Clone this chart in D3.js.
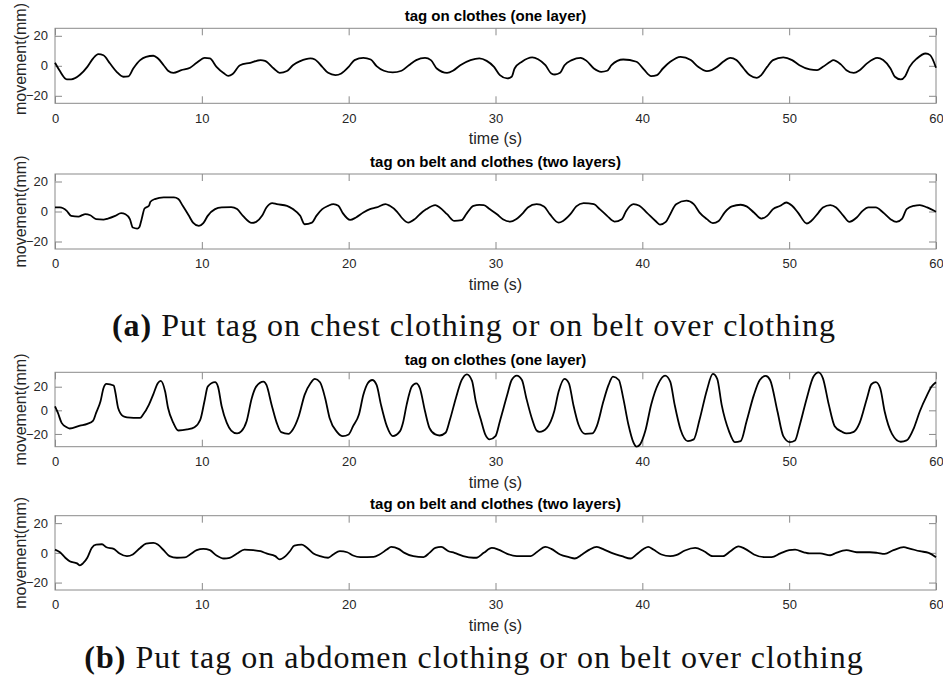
<!DOCTYPE html>
<html>
<head>
<meta charset="utf-8">
<script src="https://cdn.jsdelivr.net/npm/d3@7"></script>
<style>
  html, body { margin: 0; padding: 0; background: #fff; }
  svg { display: block; }
</style>
</head>
<body>
<svg id="fig" width="943" height="688"></svg>
<script>
// ---- data: time (s) / movement (mm) ----
const xTicks = [0, 10, 20, 30, 40, 50, 60];
const yTicks = [-20, 0, 20];
const panelTitles = [
  "tag on clothes (one layer)",
  "tag on belt and clothes (two layers)",
  "tag on clothes (one layer)",
  "tag on belt and clothes (two layers)"
];
const captionLetters = ["(a)", "(b)"];
const captionTexts = [
  "Put tag on chest clothing or on belt over clothing",
  "Put tag on abdomen clothing or on belt over clothing"
];

// chest, tag on clothes
const chestOneLayer = [[0,2],[0.3,-3],[0.8,-9],[1.1,-9],[1.7,-6],[2.2,-0.7],[2.6,5],[2.95,7.8],[3.3,7],[3.75,1.5],[4.2,-4],[4.65,-7.3],[5,-7],[5.33,-1.8],[5.8,3.8],[6.2,6],[6.7,6.7],[7.0,5],[7.4,0.4],[7.7,-3.3],[8.06,-4.7],[8.6,-2.9],[9.2,-1.3],[9.65,2],[10.2,5.3],[10.55,4.9],[11,-0.7],[11.5,-5],[11.8,-6.7],[12.1,-5.5],[12.6,0.4],[13.3,2],[14,3.8],[14.3,3.3],[14.9,-1.8],[15.3,-4.7],[15.8,-3.5],[16.2,0.4],[16.7,3.1],[17.4,4.9],[17.7,4.2],[18.2,-0.7],[18.6,-4.7],[19.1,-6.2],[19.5,-5.1],[20,-0.7],[20.4,3.8],[21,5.3],[21.5,4.2],[21.9,-0.2],[22.4,-3.3],[23,-4.4],[23.6,-3.3],[24.1,0.4],[24.6,3.8],[25.2,5.3],[25.6,3.8],[26,-1.8],[26.7,-4.7],[27.1,-3.3],[27.6,0.4],[28.3,3.8],[28.9,5],[29.4,3.3],[29.9,-0.7],[30.3,-6.2],[30.8,-8.4],[31.1,-7.3],[31.3,-1.8],[31.8,2.7],[32.5,5.6],[32.9,4.4],[33.4,0.4],[33.8,-5.1],[34.05,-5.8],[34.4,-4.7],[34.7,0.4],[35.2,3.8],[35.8,5.3],[36.2,3.3],[36.7,-1.8],[37.2,-4],[37.6,-3.3],[37.9,0.4],[38.3,3.3],[38.7,4.2],[39.6,2.7],[40.1,-2.4],[40.6,-6.9],[41,-6.2],[41.4,-1.8],[41.9,2.7],[42.6,6],[43.3,3.8],[43.8,-0.7],[44.4,-3.6],[45.1,-0.7],[45.5,2.7],[46,5.3],[46.4,3.8],[46.9,-1.8],[47.3,-6.2],[47.8,-8],[48.1,-6.2],[48.5,-0.7],[48.9,3.8],[49.6,5.6],[50.2,3.8],[50.7,0.4],[51.4,-2.4],[51.9,-2.9],[52.3,-0.7],[52.8,2.7],[53,3.8],[53.5,1.1],[53.9,-2.9],[54.4,-4.7],[54.8,-2.9],[55.3,1.6],[56,5.3],[56.4,3.8],[56.9,-1.8],[57.2,-7.3],[57.6,-9.1],[57.9,-6.9],[58.2,-0.7],[58.7,4.9],[59.3,8.2],[59.6,7.1],[60,-1.3]];

// chest, tag on belt over clothes
const chestTwoLayers = [[0,2.7],[0.34,2.7],[0.8,0.4],[1.1,-2.9],[1.6,-3.4],[1.9,-2.2],[2.05,-1.8],[2.4,-2.5],[2.8,-5.1],[3.3,-5.4],[3.6,-4.7],[4.1,-2.9],[4.5,-1.1],[4.8,-1.8],[5.1,-5.1],[5.3,-10.7],[5.6,-11.4],[5.75,-10.3],[5.9,-5.1],[6.1,2],[6.4,3.8],[6.5,6.5],[6.8,8.3],[7.4,9.4],[8.1,9.4],[8.4,8.3],[8.7,3.8],[9.1,-2.5],[9.4,-7.4],[9.8,-9.6],[10.1,-7.8],[10.4,-2.9],[10.9,1.6],[11.35,2.7],[12,2.9],[12.4,1.6],[12.8,-2.9],[13.4,-7.6],[13.7,-6.9],[14.1,-2.9],[14.4,2.7],[14.8,5.6],[15.1,4.9],[15.8,3.8],[16.2,1.6],[16.7,-2.9],[17,-8.5],[17.5,-7.4],[17.8,-2.9],[18.2,1.6],[18.6,3.8],[18.96,4.9],[19.3,3.8],[19.6,-1.1],[20.1,-5.6],[20.5,-4],[21,-0.7],[21.45,1.6],[21.9,2.7],[22.5,4.9],[22.8,3.8],[23.3,-0.2],[23.6,-4],[24.05,-7.4],[24.5,-5.1],[24.85,-1.8],[25.3,1.6],[25.9,4.3],[26.2,2.7],[26.7,-1.8],[27.2,-6.3],[27.7,-5.8],[28,-1.8],[28.5,3.8],[28.9,4.4],[29.2,4.3],[29.6,1.6],[30.1,-1.8],[30.5,-5.1],[31,-6.7],[31.4,-5.1],[31.9,-0.7],[32.2,2.7],[32.8,4.9],[33.3,3.4],[33.7,-1.8],[34.3,-7.4],[34.6,-6.3],[35.1,-1.8],[35.5,3.4],[36,5.6],[36.7,4.9],[37.1,1.6],[37.6,-2.9],[38.1,-6.7],[38.6,-5.1],[38.9,0.4],[39.4,4.9],[39.8,3.8],[40.3,-0.7],[40.9,-6.3],[41.2,-8.7],[41.6,-6.9],[41.9,-1.8],[42.3,4.9],[43,7.2],[43.5,4.9],[43.9,-0.7],[44.4,-5.1],[44.8,-7.8],[45.2,-6.3],[45.6,-0.7],[46.1,3.4],[46.7,4.5],[47.1,3.4],[47.6,-0.7],[48.1,-4.7],[48.5,-2.9],[48.9,1.6],[49.4,3.8],[49.8,6],[50.2,3.8],[50.6,-0.7],[51.2,-8],[51.5,-6.3],[52,-0.7],[52.3,2.7],[52.8,4.3],[53.2,2.7],[53.7,-2.9],[54.1,-6.9],[54.6,-4],[55,0.4],[55.4,2.7],[55.9,2.7],[56.4,-0.7],[56.9,-5.1],[57.3,-6.9],[57.7,-4.7],[58,1.6],[58.5,3.8],[58.9,4.3],[59.4,2.7],[60,-0.2]];

// abdomen, tag on clothes
const abdomenOneLayer = [[0,3.4],[0.2,-2.2],[0.45,-10.6],[0.8,-14.3],[1.0,-15.4],[1.7,-12.9],[2.2,-11.5],[2.6,-8.7],[2.8,-2.2],[3.1,7.6],[3.3,18.7],[3.5,22.4],[4.0,21],[4.1,15.9],[4.3,2],[4.65,-5],[4.9,-5.9],[5.8,-6.4],[6,-3.6],[6.4,4.8],[6.7,13.7],[7.0,22.9],[7.2,24.9],[7.5,15.9],[7.7,2],[8.06,-10.6],[8.4,-17.1],[9.0,-16.2],[9.5,-14.3],[9.9,-7.8],[10.2,9],[10.4,20.1],[10.9,23.8],[11.1,20.1],[11.35,3.4],[11.7,-10.6],[12.0,-17.1],[12.4,-19.6],[12.7,-17.6],[13.05,-9.2],[13.4,10.3],[13.7,20.1],[14.2,24.3],[14.4,21.5],[14.75,4.8],[15.1,-10.6],[15.4,-18.5],[15.9,-19.9],[16.2,-16.2],[16.6,-5],[17.0,13.1],[17.4,22.9],[17.7,26.6],[18.05,23.8],[18.4,10.3],[18.7,-6.4],[19.2,-18.2],[19.6,-21.8],[20,-20.4],[20.3,-13.4],[20.7,-3.6],[21.0,13.1],[21.3,22.9],[21.6,25.7],[21.9,21.5],[22.2,4.8],[22.6,-13.4],[23.0,-21.8],[23.5,-17.6],[23.7,-10.6],[23.95,4.8],[24.3,20.1],[24.6,22.9],[24.85,18.7],[25.2,-0.8],[25.5,-14.8],[25.9,-20.4],[26.2,-21.3],[26.6,-19],[26.9,-7.8],[27.3,10.3],[27.7,25.7],[28.05,30.5],[28.4,25],[28.65,8],[29,-7.8],[29.3,-20.4],[29.6,-24.6],[30,-21.8],[30.3,-9.2],[30.8,13.1],[31.1,25.7],[31.45,29.4],[31.8,25.7],[32.1,10.3],[32.5,-7.8],[32.8,-17.1],[33.0,-18.2],[33.5,-14.8],[34,-0.8],[34.3,15.9],[34.7,26.6],[35,22.9],[35.3,4.8],[35.65,-12],[36.1,-19.9],[36.6,-19.6],[36.9,-13.4],[37.35,7.6],[37.7,21.5],[38.0,28.5],[38.4,25.7],[38.7,10.3],[39.05,-12],[39.4,-27.4],[39.6,-30.8],[39.85,-28.8],[40.2,-17.6],[40.6,4.8],[41.1,22.9],[41.55,29.4],[41.9,24.3],[42.2,4.8],[42.6,-16.2],[43.1,-26],[43.5,-24.6],[43.9,-7.8],[44.4,17.3],[44.8,30.8],[45.1,26.6],[45.4,4.8],[45.9,-17.6],[46.3,-26.9],[46.7,-26],[47.1,-9.2],[47.6,13.1],[48.0,25.7],[48.4,29.1],[48.7,25.7],[49.2,-0.8],[49.6,-21.8],[50.05,-26.9],[50.4,-25.5],[50.7,-13.4],[51.2,10.3],[51.65,28.5],[52.0,32.2],[52.3,27.1],[52.7,4.8],[53.1,-13.4],[53.6,-18.2],[53.9,-19.6],[54.4,-18.2],[54.8,-10.6],[55.3,10.3],[55.6,22.1],[55.9,23.8],[56.2,18.7],[56.5,-0.8],[57,-19.9],[57.6,-26.6],[58,-25.5],[58.5,-14.8],[58.9,-0.8],[59.4,13.1],[59.7,20.1],[60,23.8]];

// abdomen, tag on belt over clothes
const abdomenTwoLayers = [[0,2.2],[0.34,0.4],[0.7,-3.3],[1.0,-5.6],[1.5,-7.1],[1.7,-8.4],[1.9,-7.1],[2.2,-3.3],[2.5,3.3],[2.8,5.6],[3.2,5.8],[3.5,3.8],[4.0,2.7],[4.4,-0.4],[4.9,-2.2],[5.3,-1.1],[5.8,3.3],[6.2,6.2],[6.7,6.7],[7.0,5.6],[7.4,1.8],[7.8,-2.2],[8.3,-3.3],[8.85,-3.1],[9.2,-1.1],[9.65,1.8],[10.1,2.7],[10.55,1.8],[11,-1.8],[11.5,-3.8],[11.9,-3.3],[12.4,-0.4],[12.9,2.2],[13.5,1.8],[14,1.1],[14.4,-0.4],[15.0,-2.2],[15.3,-4.4],[15.7,-2.2],[16.0,1.1],[16.3,4.9],[16.8,5.6],[17.1,4],[17.6,-0.4],[18.05,-2.2],[18.6,-3.3],[18.95,-1.1],[19.4,1.1],[19.9,0.4],[20.3,-1.8],[20.8,-2.9],[21.7,-2.7],[22.1,-1.1],[22.6,2.2],[22.9,4],[23.4,2.7],[23.8,0],[24.4,-2.2],[25.1,-2.9],[25.5,0],[25.9,3.3],[26.3,4],[26.8,1.1],[27.2,0],[27.8,-2.2],[28.5,-3.3],[28.7,-3.3],[29.2,0],[29.75,3.3],[30.2,2.2],[30.8,-0.7],[31.45,-2.2],[32.4,-2.2],[32.8,0.4],[33.4,4],[33.8,2.7],[34.4,-1.1],[35,-2.9],[35.4,-3.8],[35.9,-1.1],[36.4,2.2],[36.9,4],[37.4,2.2],[38,-0.4],[38.6,-2.2],[39.2,-3.8],[39.6,-1.1],[40.1,2.7],[40.4,4],[40.75,2.2],[41.3,-1.1],[41.9,-2.2],[42.3,-1.6],[42.9,1.6],[43.6,3.3],[44.2,1.1],[44.8,-2.2],[45.5,-2.2],[46,1.1],[46.55,4.4],[47,2.7],[47.6,-1.1],[48.3,-2.9],[48.8,-2.9],[49.4,-0.4],[50,1.8],[50.4,2.2],[51,0.4],[51.4,-0.4],[52.1,-0.4],[52.8,-1.6],[53.2,0],[53.9,1.8],[54.6,0.4],[55.5,0.4],[56,0],[56.5,-0.7],[57.1,1.8],[57.8,3.8],[58.2,2.9],[58.9,1.1],[59.5,0],[60,-2.9]];

// ---- layout ----
const plotLeft = 55, plotRight = 936;
const panels = [
  { data: chestOneLayer,    title: panelTitles[0], top: 28.3,  bottom: 103.3, yDomain: [-25, 25], ylabelCenter: 59 },
  { data: chestTwoLayers,   title: panelTitles[1], top: 174,   bottom: 249,   yDomain: [-25, 25] },
  { data: abdomenOneLayer,  title: panelTitles[2], top: 372.3, bottom: 446.7, yDomain: d3.extent(abdomenOneLayer, d => d[1]) },
  { data: abdomenTwoLayers, title: panelTitles[3], top: 515.7, bottom: 590,   yDomain: [-25, 25] }
];
const captions = [
  { letter: captionLetters[0], text: captionTexts[0], baseline: 336 },
  { letter: captionLetters[1], text: captionTexts[1], baseline: 668 }
];

const boxColor = "#8a8a8a";
const textColor = "#262626";
const tickLen = 7;
const sans = "'Liberation Sans', Arial, sans-serif";

const svg = d3.select("#fig");
svg.append("rect").attr("width", 943).attr("height", 688).attr("fill", "#fff");

panels.forEach(p => {
  const x = d3.scaleLinear().domain([0, 60]).range([plotLeft, plotRight]);
  const y = d3.scaleLinear().domain(p.yDomain).range([p.bottom, p.top]);
  const g = svg.append("g");

  // ticks pointing inward on all four sides
  const styleAxis = sel => {
    sel.select(".domain").remove();
    sel.selectAll(".tick line").attr("stroke", boxColor);
    sel.selectAll(".tick text").attr("fill", textColor)
      .style("font-family", sans).style("font-size", "13px");
  };
  g.append("g").attr("transform", `translate(0,${p.bottom})`)
    .call(d3.axisBottom(x).tickValues(xTicks).tickFormat(d3.format("d"))
      .tickSizeInner(-tickLen).tickSizeOuter(0).tickPadding(10))
    .call(styleAxis);
  g.append("g").attr("transform", `translate(0,${p.top})`)
    .call(d3.axisTop(x).tickValues(xTicks).tickFormat("")
      .tickSizeInner(-tickLen).tickSizeOuter(0))
    .call(styleAxis);
  g.append("g").attr("transform", `translate(${plotLeft},0)`)
    .call(d3.axisLeft(y).tickValues(yTicks).tickFormat(d3.format("d"))
      .tickSizeInner(-tickLen).tickSizeOuter(0).tickPadding(7))
    .call(styleAxis);
  g.append("g").attr("transform", `translate(${plotRight},0)`)
    .call(d3.axisRight(y).tickValues(yTicks).tickFormat("")
      .tickSizeInner(-tickLen).tickSizeOuter(0))
    .call(styleAxis);

  // axes box
  g.append("rect")
    .attr("x", plotLeft).attr("y", p.top)
    .attr("width", plotRight - plotLeft).attr("height", p.bottom - p.top)
    .attr("fill", "none").attr("stroke", boxColor).attr("stroke-width", 1);

  // signal
  const line = d3.line()
    .x(d => x(d[0])).y(d => y(d[1]))
    .curve(d3.curveMonotoneX);
  g.append("path").datum(p.data)
    .attr("d", line)
    .attr("fill", "none").attr("stroke", "#000")
    .attr("stroke-width", 1.8).attr("stroke-linejoin", "round");

  // title
  g.append("text")
    .attr("x", (plotLeft + plotRight) / 2).attr("y", p.top - 7)
    .attr("text-anchor", "middle")
    .style("font-family", sans).style("font-size", "15px").style("font-weight", "bold")
    .attr("fill", "#000")
    .text(p.title);

  // x label
  g.append("text")
    .attr("x", (plotLeft + plotRight) / 2).attr("y", p.bottom + 41)
    .attr("text-anchor", "middle")
    .style("font-family", sans).style("font-size", "16px")
    .attr("fill", textColor)
    .text("time (s)");

  // y label
  const cy = p.ylabelCenter !== undefined ? p.ylabelCenter : (p.top + p.bottom) / 2;
  g.append("text")
    .attr("transform", `translate(25.5,${cy}) rotate(-90)`)
    .attr("text-anchor", "middle")
    .style("font-family", sans).style("font-size", "16px")
    .attr("fill", textColor)
    .text("movement(mm)");
});

// sub-figure captions
captions.forEach(c => {
  const t = svg.append("text")
    .attr("x", 474).attr("y", c.baseline)
    .attr("text-anchor", "middle")
    .style("font-family", "'Liberation Serif', 'Times New Roman', serif")
    .style("font-size", "32px")
    .style("letter-spacing", "1px")
    .attr("fill", "#111");
  t.append("tspan").style("font-weight", "bold").text(c.letter);
  t.append("tspan").text(" " + c.text);
});
</script>
</body>
</html>
